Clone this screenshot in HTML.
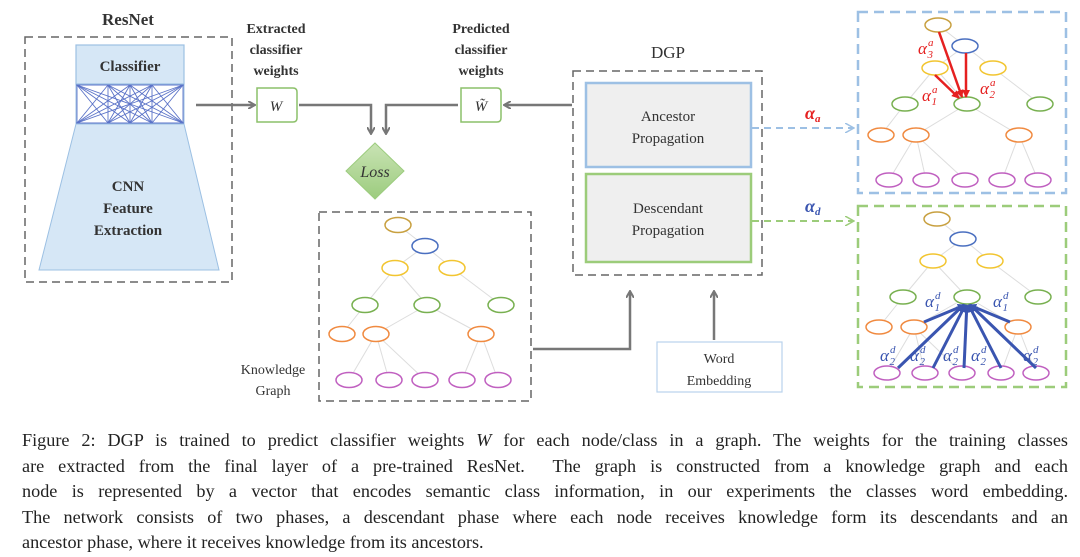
<!DOCTYPE html>
<html><head><meta charset="utf-8"><style>
body{margin:0;background:#fff;width:1080px;height:557px;overflow:hidden;position:relative}
svg{position:absolute;left:0;top:0}
.t{font-family:"Liberation Serif",serif;fill:#333}
.cap{position:absolute;left:22px;width:1046px;top:428px;font-family:"Liberation Serif",serif;font-size:18.2px;line-height:25.5px;color:#222}
.cap div{text-align:justify;text-align-last:justify;white-space:nowrap}
.cap div.l{text-align-last:left}
</style></head><body>
<svg width="1080" height="420" viewBox="0 0 1080 420" xmlns="http://www.w3.org/2000/svg">
<defs>
<marker id="ag" markerWidth="8" markerHeight="8" refX="6" refY="4" orient="auto" markerUnits="userSpaceOnUse"><path d="M0,0 L7,4 L0,8" fill="none" stroke="#777" stroke-width="2"/></marker>
<marker id="ab" markerWidth="10" markerHeight="10" refX="8" refY="5" orient="auto" markerUnits="userSpaceOnUse"><path d="M0,0 L9,5 L0,10" fill="none" stroke="#9dc0e4" stroke-width="1.5"/></marker>
<marker id="agr" markerWidth="10" markerHeight="10" refX="8" refY="5" orient="auto" markerUnits="userSpaceOnUse"><path d="M0,0 L9,5 L0,10" fill="none" stroke="#9ccc7a" stroke-width="1.5"/></marker>
<marker id="ar" markerWidth="8" markerHeight="8" refX="7" refY="4" orient="auto" markerUnits="userSpaceOnUse"><path d="M0,0 L8,4 L0,8z" fill="#e52020"/></marker>
<marker id="abl" markerWidth="8" markerHeight="8" refX="7" refY="4" orient="auto" markerUnits="userSpaceOnUse"><path d="M0,0 L8,4 L0,8z" fill="#3a55b0"/></marker>
<linearGradient id="lg" x1="0" y1="0" x2="0" y2="1"><stop offset="0" stop-color="#c9e3b4"/><stop offset="1" stop-color="#9ccc7e"/></linearGradient>
</defs>
<!-- ResNet -->
<text class="t" x="128" y="25" font-size="17" font-weight="bold" text-anchor="middle">ResNet</text>
<rect x="25" y="37" width="207" height="245" fill="none" stroke="#666" stroke-width="1.5" stroke-dasharray="8,5"/>
<rect x="76" y="45" width="108" height="39" fill="#d6e7f6" stroke="#9cc0e3" stroke-width="1.2"/>
<text class="t" x="130" y="71" font-size="15" font-weight="bold" text-anchor="middle">Classifier</text>
<rect x="76" y="84" width="108" height="40" fill="#fff" stroke="#9cc0e3" stroke-width="1"/>
<g id="mesh" stroke="#5b73c8" stroke-width="0.9"></g>
<polygon points="76,124 184,124 219,270 39,270" fill="#d6e7f6" stroke="#9cc0e3" stroke-width="1"/>
<text class="t" font-size="15" font-weight="bold" text-anchor="middle"><tspan x="128" y="191">CNN</tspan><tspan x="128" y="213">Feature</tspan><tspan x="128" y="235">Extraction</tspan></text>
<!-- labels -->
<text class="t" font-size="14" font-weight="bold" text-anchor="middle"><tspan x="276" y="33">Extracted</tspan><tspan x="276" y="54">classifier</tspan><tspan x="276" y="75">weights</tspan></text>
<text class="t" font-size="14" font-weight="bold" text-anchor="middle"><tspan x="481" y="33">Predicted</tspan><tspan x="481" y="54">classifier</tspan><tspan x="481" y="75">weights</tspan></text>
<line x1="196" y1="105" x2="254" y2="105" stroke="#777" stroke-width="2.5" marker-end="url(#ag)"/>
<path d="M257,88 h36 q4,0 4,4 v26 q0,4 -4,4 h-36z" fill="#fff" stroke="#8cc06a" stroke-width="1.5"/>
<text class="t" x="276" y="111" font-size="15" font-style="italic" text-anchor="middle">W</text>
<path d="M461,88 h36 q4,0 4,4 v26 q0,4 -4,4 h-36z" fill="#fff" stroke="#8cc06a" stroke-width="1.5"/>
<text class="t" x="481" y="111" font-size="15" font-style="italic" text-anchor="middle">W̃</text>
<polyline points="299,105 371,105 371,133" fill="none" stroke="#777" stroke-width="2.5" marker-end="url(#ag)"/>
<polyline points="458,105 386,105 386,133" fill="none" stroke="#777" stroke-width="2.5" marker-end="url(#ag)"/>
<line x1="572" y1="105" x2="505" y2="105" stroke="#777" stroke-width="2.5" marker-end="url(#ag)"/>
<polygon points="375,143 404,171 375,199 346,171" fill="url(#lg)" stroke="#9ccc7e"/>
<text class="t" x="375" y="177" font-size="16" font-style="italic" text-anchor="middle">Loss</text>
<!-- KG -->
<rect x="319" y="212" width="212" height="189" fill="none" stroke="#666" stroke-width="1.5" stroke-dasharray="8,5"/>
<text class="t" font-size="14" text-anchor="middle"><tspan x="273" y="374">Knowledge</tspan><tspan x="273" y="395">Graph</tspan></text>
<g id="kg"></g>
<polyline points="533,349 630,349 630,292" fill="none" stroke="#777" stroke-width="2.5" marker-end="url(#ag)"/>
<line x1="714" y1="340" x2="714" y2="292" stroke="#777" stroke-width="2.5" marker-end="url(#ag)"/>
<rect x="657" y="342" width="125" height="50" fill="#fff" stroke="#b9d3ec" stroke-width="1.2"/>
<text class="t" font-size="14" text-anchor="middle"><tspan x="719" y="363">Word</tspan><tspan x="719" y="385">Embedding</tspan></text>
<!-- DGP -->
<text class="t" x="668" y="58" font-size="17" text-anchor="middle">DGP</text>
<rect x="573" y="71" width="189" height="204" fill="none" stroke="#666" stroke-width="1.5" stroke-dasharray="8,5"/>
<rect x="586" y="83" width="165" height="84" fill="#efefef" stroke="#9dc0e4" stroke-width="2.5"/>
<rect x="586" y="174" width="165" height="88" fill="#efefef" stroke="#9ccc7a" stroke-width="2.5"/>
<text class="t" font-size="15" text-anchor="middle"><tspan x="668" y="121">Ancestor</tspan><tspan x="668" y="143">Propagation</tspan></text>
<text class="t" font-size="15" text-anchor="middle"><tspan x="668" y="213">Descendant</tspan><tspan x="668" y="235">Propagation</tspan></text>
<line x1="752" y1="128" x2="853" y2="128" stroke="#9dc0e4" stroke-width="2" stroke-dasharray="7,5" marker-end="url(#ab)"/>
<line x1="752" y1="221" x2="853" y2="221" stroke="#9ccc7a" stroke-width="2" stroke-dasharray="7,5" marker-end="url(#agr)"/>
<text x="805" y="119" font-family="Liberation Serif,serif" font-size="18" font-style="italic" font-weight="bold" fill="#e52020">α<tspan font-size="11" dy="3">a</tspan></text>
<text x="805" y="212" font-family="Liberation Serif,serif" font-size="18" font-style="italic" font-weight="bold" fill="#3a55b0">α<tspan font-size="11" dy="3">d</tspan></text>
<rect x="858" y="12" width="208" height="181" fill="none" stroke="#9dc0e4" stroke-width="2.5" stroke-dasharray="10,6"/>
<rect x="858" y="206" width="208" height="181" fill="none" stroke="#9ccc7a" stroke-width="2.5" stroke-dasharray="10,6"/>
<g id="g1"></g><g id="g2"></g>
</svg>
<div class="cap">
<div>Figure 2: DGP is trained to predict classifier weights <i>W</i> for each node/class in a graph. The weights for the training classes</div>
<div>are extracted from the final layer of a pre-trained ResNet.&nbsp; The graph is constructed from a knowledge graph and each</div>
<div>node is represented by a vector that encodes semantic class information, in our experiments the classes word embedding.</div>
<div>The network consists of two phases, a descendant phase where each node receives knowledge form its descendants and an</div>
<div class="l">ancestor phase, where it receives knowledge from its ancestors.</div>
</div>
<script>
var NS="http://www.w3.org/2000/svg";
function el(p,n,a){var e=document.createElementNS(NS,n);for(var k in a)e.setAttribute(k,a[k]);p.appendChild(e);return e;}
var m=document.getElementById('mesh');var xs=[77,108,130,152,183];
xs.forEach(function(a){xs.forEach(function(b){el(m,'line',{x1:a,y1:85,x2:b,y2:123});});});
el(m,'line',{x1:76,y1:85,x2:184,y2:85});el(m,'line',{x1:76,y1:123,x2:184,y2:123});
var C=['#c8a040','#4a6fc0','#f2c530','#f2c530','#78b050','#78b050','#78b050','#f08a40','#f08a40','#f08a40','#c060c0','#c060c0','#c060c0','#c060c0','#c060c0'];
var E=[[0,1],[1,2],[1,3],[2,4],[2,5],[3,6],[4,7],[5,8],[5,9],[8,10],[8,11],[8,12],[9,13],[9,14]];
function graph(g,P,rx,ry){E.forEach(function(e){el(g,'line',{x1:P[e[0]][0],y1:P[e[0]][1],x2:P[e[1]][0],y2:P[e[1]][1],stroke:'#ddd','stroke-width':1});});
P.forEach(function(p,i){el(g,'ellipse',{cx:p[0],cy:p[1],rx:rx,ry:ry,fill:'#fff',stroke:C[i],'stroke-width':1.5});});}
graph(document.getElementById('kg'),[[398,225],[425,246],[395,268],[452,268],[365,305],[427,305],[501,305],[342,334],[376,334],[481,334],[349,380],[389,380],[425,380],[462,380],[498,380]],13,7.5);
var g1=document.getElementById('g1');
graph(g1,[[938,25],[965,46],[935,68],[993,68],[905,104],[967,104],[1040,104],[881,135],[916,135],[1019,135],[889,180],[926,180],[965,180],[1002,180],[1038,180]],13,7);
[[935,75,959,98],[939,32,962,97],[966,53,966,97]].forEach(function(a){el(g1,'line',{x1:a[0],y1:a[1],x2:a[2],y2:a[3],stroke:'#e52020','stroke-width':2.5,'marker-end':'url(#ar)'});});
function lab(g,x,y,s,c,col){var t=el(g,'text',{x:x,y:y,'font-family':'Liberation Serif,serif','font-size':17,'font-style':'italic',fill:col});t.innerHTML='α<tspan font-size="11" dx="1" dy="-8">'+c+'</tspan><tspan font-size="11" dx="-6" dy="12">'+s+'</tspan>';}
lab(g1,918,54,'3','a','#e52020');lab(g1,922,101,'1','a','#e52020');lab(g1,980,94,'2','a','#e52020');
var g2=document.getElementById('g2');
graph(g2,[[937,219],[963,239],[933,261],[990,261],[903,297],[967,297],[1038,297],[879,327],[914,327],[1018,327],[887,373],[925,373],[962,373],[1001,373],[1036,373]],13,7);
[[924,322],[1010,322],[898,368],[933,368],[964,368],[1001,368],[1036,368]].forEach(function(a){el(g2,'line',{x1:a[0],y1:a[1],x2:967+(a[0]-967)*0.05,y2:305,stroke:'#3a55b0','stroke-width':3,'marker-end':'url(#abl)'});});
lab(g2,925,307,'1','d','#3a55b0');lab(g2,993,307,'1','d','#3a55b0');
lab(g2,880,361,'2','d','#3a55b0');lab(g2,910,361,'2','d','#3a55b0');lab(g2,943,361,'2','d','#3a55b0');lab(g2,971,361,'2','d','#3a55b0');lab(g2,1023,361,'2','d','#3a55b0');
</script>
</body></html>
